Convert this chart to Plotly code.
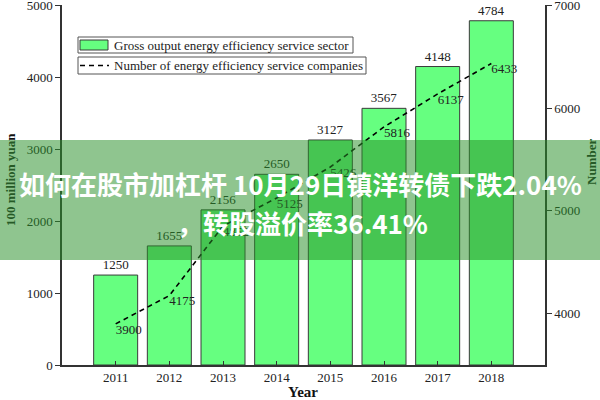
import plotly.graph_objects as go

years = [2011, 2012, 2013, 2014, 2015, 2016, 2017, 2018]
gross_output = [1250, 1655, 2156, 2650, 3127, 3567, 4148, 4784]
companies = [3900, 4175, 4852, 5125, 5426, 5816, 6137, 6433]
left_ticks = [0, 1000, 2000, 3000, 4000, 5000]
right_ticks = [4000, 5000, 6000, 7000]

bar_name = "Gross output energy efficiency service sector"
line_name = "Number of energy efficiency service companies"
banner_line1 = "如何在股市加杠杆 10月29日镇洋转债下跌2.04%"
banner_line2 = "，转股溢价率36.41%"

W, H = 600, 400
ML, MR, MT, MB = 62, 55, 5, 35
PW, PH = W - ML - MR, H - MT - MB


def px(x):
    return (x - ML) / PW


def py(y):
    return (H - MB - y) / PH


SERIF = "Liberation Serif, Times New Roman, serif"
TXT = "#222222"
GREEN = "#66FF80"
EDGE = "#3a3a3a"

fig = go.Figure()
fig.add_trace(go.Bar(
    x=years, y=gross_output, width=0.82,
    marker=dict(color=GREEN, line=dict(color=EDGE, width=1)),
    text=[str(v) for v in gross_output], textposition="outside",
    textfont=dict(family=SERIF, size=13, color=TXT),
    cliponaxis=False, showlegend=False, name=bar_name,
))
fig.add_trace(go.Scatter(
    x=years, y=companies, yaxis="y2", mode="lines+text",
    line=dict(color="black", width=1.6, dash="5px,4px"),
    text=[str(v) for v in companies], textposition="bottom right",
    textfont=dict(family=SERIF, size=13, color=TXT),
    cliponaxis=False, showlegend=False, name=line_name,
))

axis_common = dict(
    showline=True, linecolor="#333333", linewidth=1.5, showgrid=False,
    zeroline=False, tickfont=dict(family=SERIF, size=13, color=TXT),
    tickcolor="#333333", tickwidth=1.2, automargin=False,
)

fig.update_layout(
    width=W, height=H, margin=dict(l=ML, r=MR, t=MT, b=MB, autoexpand=False),
    paper_bgcolor="white", plot_bgcolor="white",
    xaxis=dict(range=[2010, 2019], tickvals=years, ticks="inside", ticklen=4,
               **axis_common),
    yaxis=dict(range=[0, 5003], tickvals=left_ticks, ticks="outside", ticklen=5,
               ticklabeloverflow="allow", **axis_common),
    yaxis2=dict(range=[3500, 7002], tickvals=right_ticks, overlaying="y",
                side="right", ticks="outside", ticklen=5,
                ticklabeloverflow="allow", **axis_common),
    bargap=0.18,
)

shapes = []
anns = []
# manual legend boxes
shapes.append(dict(type="rect", xref="paper", yref="paper", x0=px(78), x1=px(353),
                   y0=py(53), y1=py(37), line=dict(color="#555555", width=1),
                   fillcolor="white", layer="above"))
shapes.append(dict(type="rect", xref="paper", yref="paper", x0=px(78), x1=px(366),
                   y0=py(74), y1=py(57), line=dict(color="#555555", width=1),
                   fillcolor="white", layer="above"))
shapes.append(dict(type="rect", xref="paper", yref="paper", x0=px(80), x1=px(108),
                   y0=py(50), y1=py(40), line=dict(color=EDGE, width=1),
                   fillcolor=GREEN, layer="above"))
shapes.append(dict(type="line", xref="paper", yref="paper", x0=px(80), x1=px(109),
                   y0=py(65.5), y1=py(65.5),
                   line=dict(color="black", width=1.4, dash="5px,4px"), layer="above"))
anns.append(dict(text=bar_name, xref="paper", yref="paper", x=px(112), y=py(45),
                 xanchor="left", yanchor="middle", showarrow=False,
                 font=dict(family=SERIF, size=13, color=TXT)))
anns.append(dict(text=line_name, xref="paper", yref="paper", x=px(112), y=py(65.5),
                 xanchor="left", yanchor="middle", showarrow=False,
                 font=dict(family=SERIF, size=13, color=TXT)))

# banner
shapes.append(dict(type="rect", xref="paper", yref="paper", x0=px(0), x1=px(600),
                   y0=py(260), y1=py(140), line=dict(width=0),
                   fillcolor="rgba(41,144,41,0.52)", layer="above"))

# axis titles
DARK = "#265a26"
anns.append(dict(text="<b>100 million yua</b><b><span style='color:#111'>n</span></b>",
                 xref="paper", yref="paper", x=px(10), y=py(180), textangle=-90,
                 xanchor="center", yanchor="middle", showarrow=False,
                 font=dict(family=SERIF, size=13, color=DARK)))
anns.append(dict(text="<b>Number</b>", xref="paper", yref="paper", x=px(591), y=py(162),
                 textangle=-90, xanchor="center", yanchor="middle", showarrow=False,
                 font=dict(family=SERIF, size=13, color=DARK)))
anns.append(dict(text="<b>Year</b>", xref="paper", yref="paper", x=px(303), y=py(392),
                 xanchor="center", yanchor="middle", showarrow=False,
                 font=dict(family=SERIF, size=15, color="#111111")))

# banner text
anns.append(dict(text="<b>" + banner_line1 + "</b>", xref="paper", yref="paper",
                 x=px(300), y=py(183), xanchor="center", yanchor="middle",
                 showarrow=False,
                 font=dict(family="Noto Sans CJK SC", size=26, color="white")))
anns.append(dict(text="<b>" + banner_line2 + "</b>", xref="paper", yref="paper",
                 x=px(302), y=py(222), xanchor="center", yanchor="middle",
                 showarrow=False,
                 font=dict(family="Noto Sans CJK SC", size=26, color="white")))

fig.update_layout(shapes=shapes, annotations=anns)
fig.write_html("out.html", config={"displayModeBar": False},
               post_script="document.body.style.margin='0';document.body.style.overflow='hidden';")
